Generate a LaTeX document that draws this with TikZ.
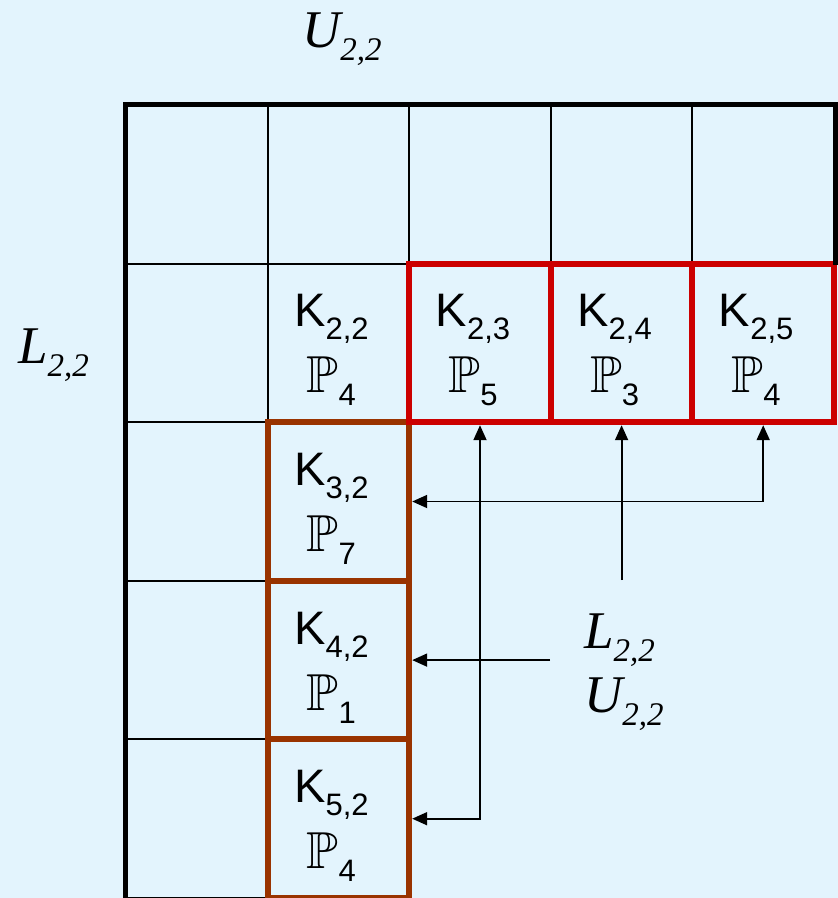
\documentclass[tikz,border=0pt]{standalone}
\usepackage{amssymb}
\usepackage{fontspec}
\setmainfont{Liberation Sans}
\newfontfamily\timesfont{Liberation Serif}
\usetikzlibrary{arrows.meta}

\definecolor{bgblue}{HTML}{E3F4FD}
\definecolor{blockred}{HTML}{CC0000}
\definecolor{blockbrown}{HTML}{993300}

% subscripts and cell contents
\newcommand{\ksub}[1]{\raisebox{-13pt}{\fontsize{31}{31}\selectfont #1}}
\newcommand{\kp}[2]{K\ksub{#1}\hspace*{14pt}\\{\fontsize{52}{66}\selectfont$\mathbb{P}$}\ksub{#2}\hspace*{14pt}}
\newcommand{\msub}[1]{#1\raisebox{-13pt}{\fontsize{33}{33}\selectfont 2,2}}

\begin{document}
\begin{tikzpicture}[
  x=1pt, y=-1pt,
  every node/.style={inner sep=0pt},
  cell/.style={rectangle, draw=black, line width=2pt, minimum width=141.6pt, minimum height=158.6pt,
    align=center, font=\fontsize{47}{66}\selectfont, text height=120pt, text depth=20pt},
  redcell/.style={cell, draw=blockred, line width=6pt},
  browncell/.style={cell, draw=blockbrown, line width=6pt},
  arr/.style={line width=1.8pt, -{Triangle[length=15pt,width=13pt]}},
  darr/.style={line width=1.8pt, {Triangle[length=15pt,width=13pt]}-{Triangle[length=15pt,width=13pt]}},
  mlabel/.style={font=\timesfont\itshape\fontsize{53}{64}\selectfont, align=left}
]
  \fill[bgblue] (0,0) rectangle (838,898);
  \useasboundingbox (0,0) rectangle (838,898);

  % empty cells
  \foreach \c in {1,...,5}
    \node[cell] (e1\c) at ({126+141.6*(\c-0.5)}, 184.3) {};
  \foreach \r in {2,...,5}
    \node[cell] (e\r1) at (196.8, {105+158.6*(\r-0.5)}) {};

  \node[cell] (k22) at (338.4, 342.9) {\kp{2,2}{4}};

  % column block
  \node[browncell] (k32) at (338.4, 501.5) {\kp{3,2}{7}};
  \node[browncell] (k42) at (338.4, 660.1) {\kp{4,2}{1}};
  \node[browncell] (k52) at (338.4, 818.7) {\kp{5,2}{4}};

  % row block
  \node[redcell] (k23) at (480.0, 342.9) {\kp{2,3}{5}};
  \node[redcell] (k24) at (621.6, 342.9) {\kp{2,4}{3}};
  \node[redcell] (k25) at (763.2, 342.9) {\kp{2,5}{4}};

  \draw[line width=5pt] (e15.south east) -- (e15.north east) -- (e11.north west) -- (e51.south west);

  \node[mlabel, anchor=base west] (utop) at (302, 47) {\msub{U}};
  \node[mlabel, anchor=base west] (lleft) at (18, 363) {\msub{L}};
  \node[mlabel, anchor=base west] (lu) at (584, 712) {\msub{L}\\\msub{U}};

  \coordinate (lutop) at (621.6, 580);
  \coordinate (luwest) at (550, 660.1);

  \draw[darr] (k25.south) |- (k32.east);
  \draw[darr] (k23.south) |- (k52.east);
  \draw[arr] (lutop) -- (k24.south);
  \draw[arr] (luwest) -- (k42.east);
\end{tikzpicture}
\end{document}
